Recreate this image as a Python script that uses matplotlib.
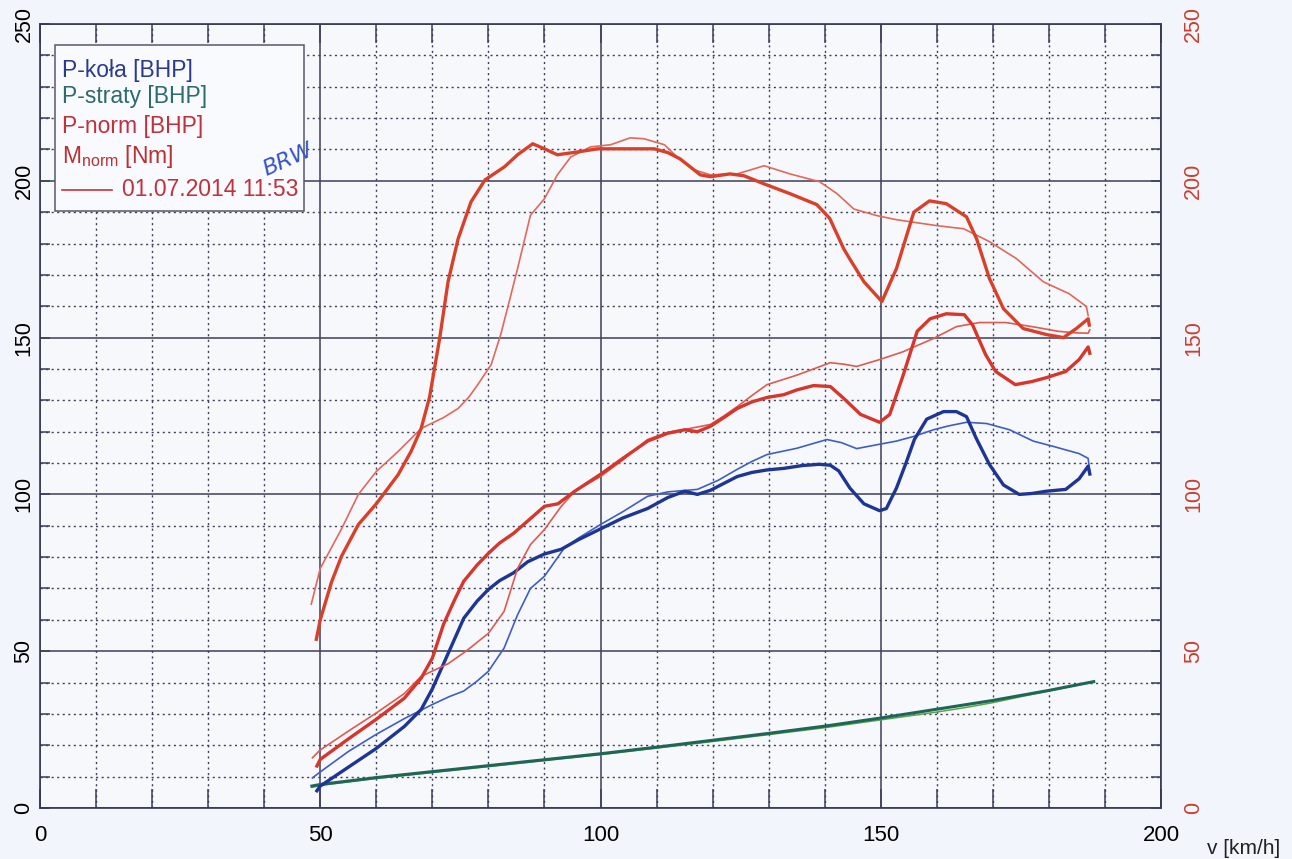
import matplotlib
matplotlib.use("Agg")
import matplotlib.pyplot as plt
from matplotlib.patches import Rectangle
from matplotlib.ticker import MultipleLocator

plt.rcParams['font.family'] = ['Liberation Sans', 'DejaVu Sans']
plt.rcParams['mathtext.fontset'] = 'custom'
plt.rcParams['mathtext.rm'] = 'Liberation Sans'
plt.rcParams['mathtext.it'] = 'Liberation Sans:italic'

# ---- data (v [km/h] -> value) ----
# P-kola, current run (thick) and reference run (thin)
pk_v = [49.4, 50, 55, 60, 65, 68, 70, 72, 73, 75.6, 78, 80, 82, 84.5, 87, 90, 93, 96, 100, 104,
        108.4, 112, 115, 117.3, 119.6, 122, 124.4, 127, 129.7, 132.7, 136, 139, 141, 142.5, 144.5,
        147, 149.8, 151, 152.8, 154.5, 156, 158.2, 161.2, 163.5, 165.3, 167, 169.4, 171.9, 174.7,
        177, 179.5, 183, 185.4, 187, 187.3]
pk = [5.5, 7, 13, 19, 26, 31.4, 38, 46, 50, 60.5, 66, 69.7, 72.5, 75, 78.5, 81, 82.5, 85.5, 89, 92.5,
      95.5, 99, 101, 100, 101.3, 103.5, 105.7, 107, 107.8, 108.3, 109.2, 109.6, 109.3, 107.5, 102,
      97, 94.8, 95.5, 102, 110, 117.5, 124, 126.4, 126.4, 124.8, 118, 109.5, 103, 100,
      100.3, 101, 101.6, 105, 109, 106.5]
pk_ref_v = [48.6, 50, 55, 60, 65, 68, 70, 73, 75.6, 78, 80, 82.8, 85.2, 87.5, 90, 93.5, 96, 100, 104,
            108.4, 112, 117.3, 121, 124.4, 127, 129.7, 135, 140.4, 143, 145.7, 149.8, 152.8, 155.9,
            159.4, 162, 165.3, 168.9, 173, 177.2, 180.8, 185.4, 187, 187.3]
pk_ref = [9.6, 11.5, 18, 23.5, 28.5, 31.2, 33, 35.5, 37.3, 40.5, 43.6, 51, 61.6, 70, 73.9, 82.8, 86, 90.4, 94.5,
          99.4, 100.8, 101.6, 104.5, 108, 110.5, 112.7, 114.7, 117.5, 116.5, 114.6, 116, 117, 118.5,
          120.6, 121.8, 123, 122.6, 120.6, 117, 115.3, 113, 111.5, 107]

# P-straty (losses)
ps_v = [48.5, 50, 60, 70, 80, 90, 100, 110, 120, 130, 140, 150, 160, 170, 180, 188]
ps = [7, 7.5, 9.7, 11.6, 13.5, 15.4, 17.3, 19.4, 21.6, 23.8, 26.1, 28.7, 31.5, 34.3, 37.5, 40.3]
ps_ref_v = [48.5, 50, 60, 70, 80, 90, 100, 110, 120, 130, 140, 150, 160, 165, 170, 175, 180, 186]
ps_ref = [6.6, 7.2, 9.4, 11.3, 13.2, 15.1, 17.0, 19.1, 21.2, 23.4, 25.6, 28.1, 30.6, 32.0, 33.6, 35.5, 37.3, 39.5]

# P-norm
pn_v = [49.4, 50, 55, 60, 65, 68, 70, 72, 74, 75.6, 78, 80, 82, 84.5, 87, 90, 92.4, 95.4, 100, 104,
        108.4, 112, 115, 117.3, 119.6, 122, 124.4, 127, 129.7, 132.7, 135, 138, 141, 143.4, 146.4,
        149.8, 151.6, 154, 156.5, 158.8, 161.7, 164.9, 166.4, 168.7, 170.5, 174, 177, 179.5, 183,
        185.4, 187, 187.3]
pn = [13.4, 15.5, 22, 28.3, 35, 41.4, 47.8, 58.6, 66.5, 72.3, 77.5, 81.2, 84.5, 87.6, 91.5, 96.2, 97, 101, 106.4, 111.5,
      117, 119.5, 120.6, 120, 121.7, 124.5, 127.4, 129.5, 130.9, 131.8, 133.3, 134.7, 134.4, 130.6, 125.5,
      123, 125.5, 138, 152, 156, 157.6, 157.3, 154, 144.6, 139.2, 135, 136, 137.2, 139.2,
      143, 147, 145]
pn_ref_v = [48.6, 50, 55, 60, 65, 68, 72.8, 76, 80, 82.8, 85.2, 87.5, 90, 93, 95.4, 100, 104, 108.4,
            112, 115, 119.6, 122, 124.4, 127, 129.7, 135, 138, 141, 143.5, 145.7, 149.8, 154, 155.9,
            159.4, 163.5, 167.6, 172.3, 177, 181.7, 185, 187, 187.3]
pn_ref = [16, 18.5, 24.5, 30.3, 36.5, 42, 46, 50, 55.7, 62.7, 76.4, 84, 88.8, 96.2, 101, 105.7, 111, 117.5,
          119.8, 120.7, 122.3, 125, 128, 131.5, 135, 138, 140, 142, 141.5, 140.8, 143, 145.5, 147,
          149.7, 153.5, 154.8, 154.8, 153.5, 152, 151.5, 151.4, 152.5]

# M-norm (right axis)
mn_v = [49.3, 50, 52, 53.8, 56.8, 60, 63.9, 66.2, 68, 69.5, 71.3, 72.8, 74.6, 76.9, 79.4, 82.9, 85.2,
        87.9, 90, 92.3, 95.9, 99.5, 104, 109.6, 112, 114.2, 117.8, 119.6, 123.1, 125.6, 129.2, 133.8,
        138.6, 140.9, 143.4, 144.5, 147, 150.2, 152.8, 155.9, 158.7, 161.7, 165.3, 167.1, 169.4,
        171.9, 175.4, 179.5, 182.6, 184.9, 187, 187.2]
mn = [53.8, 60, 72, 80.3, 90.4, 97, 106.3, 113.7, 121, 131, 149.7, 167.8, 181.5, 193.3, 200.3, 204.5, 208.3,
      211.8, 210.2, 208.3, 209.2, 210.2, 210.2, 210.2, 209, 207, 201.9, 201.3, 202.2, 201.6, 199, 195.9,
      192.4, 188, 178.3, 175, 167.8, 161.5, 172, 190, 193.6, 192.7, 188.5, 181.5, 168.8,
      159.2, 152.9, 151, 150, 152.9, 156, 154]
mn_ref_v = [48.4, 50, 53.8, 56.8, 60, 63.9, 68, 69.8, 72, 74.6, 76.5, 78.1, 80.5, 82.2, 83.5, 85.2,
            87.5, 90, 92.3, 94.7, 98.2, 101.8, 105.3, 107.8, 111.4, 114, 116.7, 119.6, 124.4, 129.2,
            133.8, 139.1, 142.2, 145.2, 149.3, 152.8, 157.7, 160, 164.8, 169.4, 174.2, 179, 183.6,
            186.7, 187]
mn_ref = [65, 76.4, 89, 100, 107.3, 113.7, 121, 122.6, 124.5, 127.4, 131, 135, 141.4, 151, 160, 172,
          189, 194.3, 201.9, 207.6, 210.8, 211.5, 213.7, 213.4, 211.5, 207, 203.5, 201.9, 202.2, 204.8,
          202.2, 199.7, 195.9, 191, 188.9, 187.6, 186.3, 185.7, 184.7, 180.6, 175.2, 167.8, 164,
          159.9, 157]

legend_labels = ['P-koła [BHP]', 'P-straty [BHP]', 'P-norm [BHP]', 'M$_{\\mathrm{norm}}$ [Nm]']
legend_colors = ['#2b3a8f', '#2e6b6c', '#c0313c', '#b83232']
run_label = '01.07.2014 11:53'

W, H = 1292, 859
fig = plt.figure(figsize=(W / 100, H / 100), dpi=100, facecolor='#f2f5fb')
ax = fig.add_axes([40 / W, 1 - 808 / H, (1161 - 40) / W, (808 - 24) / H])
ax.set_facecolor('#f6f8fc')
ax.set_xlim(0, 200)
ax.set_ylim(0, 250)

gc = '#3c4058'
ax.xaxis.set_major_locator(MultipleLocator(50))
ax.xaxis.set_minor_locator(MultipleLocator(10))
ax.yaxis.set_major_locator(MultipleLocator(50))
ax.yaxis.set_minor_locator(MultipleLocator(10))
ax.set_axisbelow(True)
ax.grid(which='major', color=gc, lw=1.1, ls='-')
ax.grid(which='minor', color=gc, lw=1.0, ls=(0, (1.5, 2.5)))

ax.tick_params(axis='x', which='both', direction='in', length=14, top=True, color=gc, width=1.1,
               labelsize=16, pad=12)
ax.tick_params(axis='y', which='both', direction='in', length=7.5, right=False, color=gc, width=1.1,
               labelsize=15.5, pad=4)
for t in ax.get_yticklabels():
    t.set_rotation(90)
    t.set_va('center')
for s in ax.spines.values():
    s.set_color('#33384e')
    s.set_linewidth(1.2)

# power curves
ax.plot(ps_ref_v, ps_ref, color='#58a548', lw=1.1)
ax.plot(ps_v, ps, color='#1f6658', lw=2.2)
ax.plot(pk_ref_v, pk_ref, color='#3f5ec4', lw=1.2)
ax.plot(pk_v, pk, color='#1e3594', lw=2.4)
ax.plot(pn_ref_v, pn_ref, color='#df5a50', lw=1.2)
ax.plot(pn_v, pn, color='#d6362b', lw=2.4)

# torque on right axis
ax2 = ax.twinx()
ax2.set_ylim(0, 250)
ax2.yaxis.set_major_locator(MultipleLocator(50))
ax2.yaxis.set_minor_locator(MultipleLocator(10))
ax2.tick_params(axis='y', which='both', direction='in', length=7.5, color=gc, width=1.1,
                labelsize=15.5, labelcolor='#c8402f', pad=16)
for t in ax2.get_yticklabels():
    t.set_rotation(90)
    t.set_va('center')
for s in ax2.spines.values():
    s.set_visible(False)
ax2.plot(mn_ref_v, mn_ref, color='#e2685c', lw=1.2)
ax2.plot(mn_v, mn, color='#d9402a', lw=2.4)

fig.text(1280 / W, 1 - 849 / H, 'v [km/h]', ha='right', va='center', fontsize=15, color='#222')

# legend box drawn by hand
def fx(px):
    return px / W

def fy(py):
    return 1 - py / H

fig.patches.append(Rectangle((fx(55), fy(211)), fx(304) - fx(55), fy(45) - fy(211),
                             transform=fig.transFigure, facecolor='#f9fafd', edgecolor='#55596a',
                             lw=1.1, zorder=5))
rows_y = [70, 97, 126, 156]
for lab, col, yy in zip(legend_labels, legend_colors, rows_y):
    fig.text(fx(62), fy(yy), lab, color=col, fontsize=16.5, ha='left', va='center', zorder=6)
fig.lines.append(plt.Line2D([fx(62), fx(112)], [fy(190), fy(190)], transform=fig.transFigure,
                            color='#c8353a', lw=1.2, zorder=6))
fig.text(fx(122), fy(190), run_label, color='#c0313c', fontsize=16.5, ha='left', va='center', zorder=6)

# handwritten note
fig.text(fx(288), fy(160), 'BRW', color='#3552c6', fontsize=16, style='italic', rotation=24,
         ha='center', va='center', family='DejaVu Sans', zorder=7)

fig.savefig('out.png', dpi=100, facecolor=fig.get_facecolor())
